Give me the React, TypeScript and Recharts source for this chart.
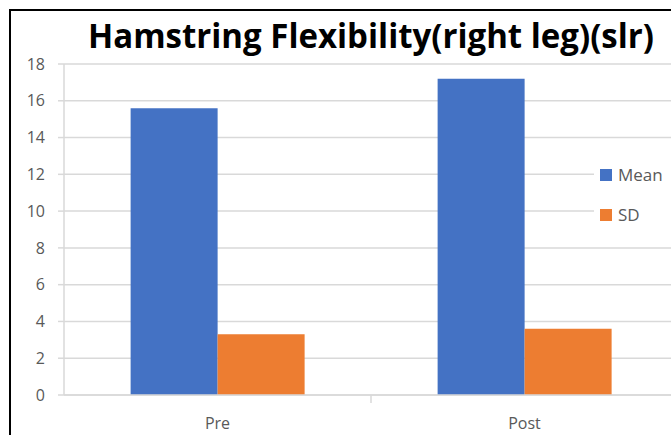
import React from 'react';
import { BarChart, Bar, XAxis, YAxis, CartesianGrid } from 'recharts';

// Hamstring flexibility (right leg, SLR) — mean and SD before and after
const categories = ['Pre', 'Post'];
const meanValues = [15.6, 17.2];
const sdValues = [3.3, 3.6];
const yTicks = [0, 2, 4, 6, 8, 10, 12, 14, 16, 18];
const seriesNames = ['Mean', 'SD'];
const seriesColors = ['#4472C4', '#ED7D31'];
const titleText = 'Hamstring Flexibility(right leg)(slr)';

const data = categories.map((c, i) => ({ name: c, Mean: meanValues[i], SD: sdValues[i] }));

const CHART_W = 720;
const CHART_H = 435;
const MARGIN = { top: 64, right: 42, left: 0, bottom: 0 };
const Y_AXIS_W = 64;
const PLOT_W = CHART_W - MARGIN.left - MARGIN.right - Y_AXIS_W;
const BAND = PLOT_W / categories.length;

const AXIS_GRAY = '#d9d9d9';
const TEXT_GRAY = '#595959';
const FONT = '"Open Sans", "Noto Sans", sans-serif';

// Category label plus the divider tick between categories
const CategoryTick = (props: any) => {
  const { x, y, payload, index } = props;
  const axisY = y;
  return (
    <g>
      <text
        x={x}
        y={axisY + 34}
        textAnchor="middle"
        fill={TEXT_GRAY}
        fontSize={16}
        fontFamily={FONT}
      >
        {payload.value}
      </text>
      {index < categories.length - 1 && (
        <line x1={x + BAND / 2} x2={x + BAND / 2} y1={axisY} y2={axisY + 8} stroke={AXIS_GRAY} strokeWidth={1.5} />
      )}
    </g>
  );
};

export default function App() {
  return (
    <div
      style={{
        position: 'absolute',
        left: 0,
        top: 0,
        width: 671,
        height: 435,
        overflow: 'hidden',
        background: '#fff',
      }}
    >
      <div
        style={{
          position: 'absolute',
          left: 9,
          top: 9,
          width: 700,
          height: 460,
          borderLeft: '2px solid #000',
          borderTop: '2px solid #000',
        }}
      />
      <div style={{ position: 'absolute', left: 0, top: 0 }}>
        <BarChart
          width={CHART_W}
          height={CHART_H}
          data={data}
          margin={MARGIN}
          barCategoryGap="21.7%"
          barGap={0}
        >
          <CartesianGrid vertical={false} stroke={AXIS_GRAY} strokeWidth={1.5} />
          <XAxis
            dataKey="name"
            height={40}
            axisLine={{ stroke: AXIS_GRAY, strokeWidth: 1.5 }}
            tickLine={false}
            tickSize={0}
            tickMargin={0}
            tick={<CategoryTick />}
            interval={0}
          />
          <YAxis
            width={Y_AXIS_W}
            domain={[0, 18]}
            ticks={yTicks}
            interval={0}
            axisLine={{ stroke: AXIS_GRAY, strokeWidth: 1.5 }}
            tickLine={{ stroke: AXIS_GRAY, strokeWidth: 1.5 }}
            tickSize={6}
            tickMargin={13}
            tick={{ fill: TEXT_GRAY, fontSize: 16, fontFamily: FONT }}
          />
          <Bar dataKey="Mean" fill={seriesColors[0]} isAnimationActive={false} />
          <Bar dataKey="SD" fill={seriesColors[1]} isAnimationActive={false} />
        </BarChart>
      </div>
      <svg
        width={671}
        height={80}
        style={{ position: 'absolute', left: 0, top: 0, overflow: 'visible' }}
      >
        <text
          x={371}
          y={48}
          textAnchor="middle"
          fontFamily={FONT}
          fontWeight={700}
          fontSize={34}
          fill="#000"
          textLength={566}
          lengthAdjust="spacingAndGlyphs"
        >
          {titleText}
        </text>
      </svg>
      <div
        style={{
          position: 'absolute',
          left: 594,
          top: 158,
          width: 90,
          height: 76,
          background: '#fff',
          fontFamily: FONT,
          fontSize: 17,
          color: TEXT_GRAY,
        }}
      >
        {seriesNames.map((n, i) => (
          <div
            key={n}
            style={{
              position: 'absolute',
              left: 6,
              top: 11 + i * 40,
              display: 'flex',
              alignItems: 'center',
              height: 12,
              whiteSpace: 'nowrap',
            }}
          >
            <span
              style={{
                display: 'inline-block',
                width: 12,
                height: 12,
                background: seriesColors[i],
                marginRight: 6,
              }}
            />
            <span style={{ lineHeight: '12px' }}>{n}</span>
          </div>
        ))}
      </div>
    </div>
  );
}
